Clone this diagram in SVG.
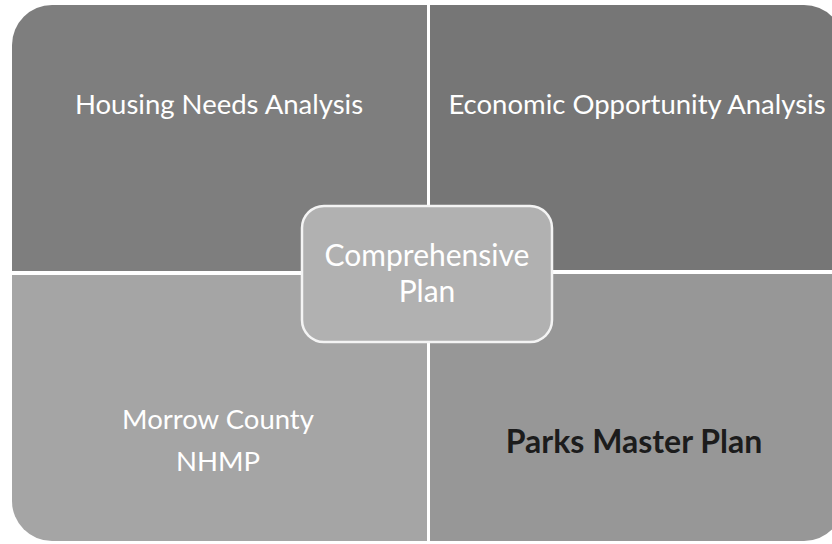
<svg xmlns="http://www.w3.org/2000/svg" width="832" height="544" viewBox="0 0 832 544">
<style>
.lbl{font-family:Lato,"Open Sans","Liberation Sans",sans-serif;font-size:27.5px;fill:#ffffff;text-anchor:middle}
.big{font-size:30px}
.dark{fill:#1c1c1c;font-weight:bold;font-size:32px}
</style>
<defs>
<clipPath id="outer"><rect x="12" y="5" width="832" height="536" rx="40" ry="40"/></clipPath>
</defs>
<rect width="832" height="544" fill="#ffffff"/>
<g clip-path="url(#outer)">
<g id="housing">
<rect x="12" y="5" width="415" height="266" fill="#7e7e7e"/>
<text class="lbl" x="219" y="114">Housing Needs Analysis</text>
</g>
<g id="economic">
<rect x="430" y="5" width="414" height="265" fill="#767676"/>
<text class="lbl" x="637" y="114">Economic Opportunity Analysis</text>
</g>
<g id="morrow">
<rect x="12" y="275" width="415" height="266" fill="#a5a5a5"/>
<text class="lbl" x="218" y="429">Morrow County</text>
<text class="lbl" x="218" y="471">NHMP</text>
</g>
<g id="parks">
<rect x="430" y="274" width="414" height="267" fill="#979797"/>
<text class="lbl dark" x="634" y="453">Parks Master Plan</text>
</g>
</g>
<g id="connectors"></g>
<g id="comprehensive">
<rect x="302" y="206" width="250" height="136" rx="22" ry="22" fill="#b1b1b1" stroke="#f4f4f4" stroke-width="2.5"/>
<text class="lbl big" x="427" y="266">Comprehensive</text>
<text class="lbl big" x="427" y="302">Plan</text>
</g>
</svg>
